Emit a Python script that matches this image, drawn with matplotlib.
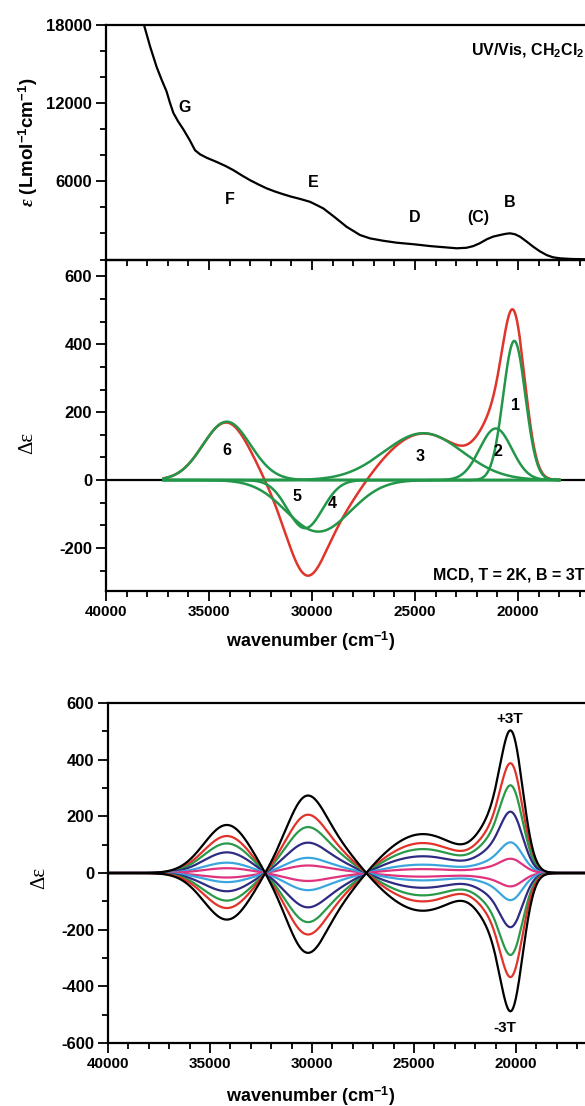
import numpy as np
import matplotlib
matplotlib.use('Agg')
import matplotlib.pyplot as plt
from matplotlib.ticker import MultipleLocator, FixedLocator

plt.rcParams['font.family'] = ['Liberation Sans', 'DejaVu Sans']
plt.rcParams['font.weight'] = 'bold'
plt.rcParams['axes.labelweight'] = 'bold'
plt.rcParams['mathtext.fontset'] = 'custom'
plt.rcParams['mathtext.rm'] = 'Liberation Sans:bold'
plt.rcParams['mathtext.bf'] = 'Liberation Sans:bold'
plt.rcParams['mathtext.it'] = 'Liberation Serif:italic'
plt.rcParams['axes.linewidth'] = 1.6
plt.rcParams['axes.unicode_minus'] = False

# UV/Vis absorption spectrum in CH2Cl2
uv_wavenumber = [38700, 38155, 37850, 37540, 37300, 37060, 36900, 36730, 36500,
                 36250, 35950, 35680, 35440, 35100, 34630, 34200, 33820, 33400,
                 33010, 32600, 32200, 31800, 31400, 31000, 30580, 30100, 29800,
                 29450, 28900, 28320, 27670, 27180, 26550, 25890, 25000, 24270,
                 23500, 22980, 22500, 22170, 21850, 21520, 21200, 20870, 20600,
                 20390, 20150, 19900, 19600, 19260, 18950, 18610, 18300, 17960,
                 17400, 16750]
uv_epsilon = [20000, 18000, 16300, 14770, 13800, 12900, 12050, 11250, 10600,
              10000, 9200, 8390, 8080, 7800, 7490, 7180, 6860, 6450,
              6090, 5760, 5460, 5220, 5010, 4820, 4650, 4430, 4200,
              3920, 3250, 2510, 1880, 1620, 1440, 1290, 1160, 1030,
              930, 860, 900, 1030, 1250, 1550, 1760, 1880, 1970,
              2010, 1940, 1750, 1400, 980, 640, 340, 170, 90,
              40, 20]
uv_band_names = ['G', 'F', 'E', 'D', '(C)', 'B']

# Gaussian components of the MCD fit (T = 2 K, B = 3 T)
band_names = ['1', '2', '3', '4', '5', '6']
band_center = [20180, 21080, 24600, 29690, 30340, 34140]
band_height = [410, 152, 138, -152, -142, 172]
band_sigma = [540, 780, 1900, 1556, 850, 1150]
fit_lo, fit_hi = 18000, 37200

# field series, intensity relative to the +3 T spectrum
field_scale = [1.0, 0.77, 0.615, 0.43, 0.215, 0.10,
               -0.094, -0.19, -0.38, -0.575, -0.73, -0.97]
field_colors = ['black', '#e2332a', '#2a9a4a', '#2f2a82', '#3ba6de', '#e0337d',
                '#e0337d', '#3ba6de', '#2f2a82', '#2a9a4a', '#e2332a', 'black']


def band(nu, c, h, s):
    return h * np.exp(-(nu - c) ** 2 / (2.0 * s ** 2))


def style_axis(ax):
    ax.set_xlim(40000, 16000)
    ax.xaxis.set_major_locator(MultipleLocator(5000))
    ax.xaxis.set_minor_locator(MultipleLocator(1000))
    ax.tick_params(which='major', direction='out', width=1.3, length=7)
    ax.tick_params(which='minor', direction='out', width=1.3, length=4)
    ax.tick_params(axis='y', labelsize=12, pad=3)
    ax.tick_params(axis='x', labelsize=11, pad=3)
    ax.spines['right'].set_visible(False)


fig = plt.figure(figsize=(5.85, 11.06), dpi=100)
fig.patch.set_facecolor('white')

ax_mcd = fig.add_axes([106 / 585, 1 - 591 / 1106, 494.4 / 585, 331.5 / 1106])
ax_uv = fig.add_axes([106 / 585, 1 - 259.5 / 1106, 494.4 / 585, 234.5 / 1106])
ax_fd = fig.add_axes([108 / 585, 1 - 1043 / 1106, 489.6 / 585, 340 / 1106])
ax_uv.patch.set_alpha(0)

# --- UV/Vis ---
ax_uv.plot(uv_wavenumber, uv_epsilon, color='black', lw=1.6)
style_axis(ax_uv)
ax_uv.set_ylim(0, 18000)
ax_uv.yaxis.set_major_locator(FixedLocator([6000, 12000, 18000]))
ax_uv.yaxis.set_minor_locator(MultipleLocator(2000))
ax_uv.tick_params(axis='x', labelbottom=False)
ax_uv.set_ylabel(r'$\varepsilon$ (Lmol$^{-1}$cm$^{-1}$)', fontsize=13.5)
ax_uv.yaxis.label.set_verticalalignment('center')
ax_uv.yaxis.set_label_coords(-0.158, 0.5)
uv_label_pos = [(36165, 11640), (33980, 4590), (29950, 5890),
                (25000, 3210), (21940, 3210), (20390, 4360)]
for name, (x, y) in zip(uv_band_names, uv_label_pos):
    ax_uv.text(x, y, name, fontsize=11.5, ha='center', va='center')
ax_uv.text(16760, 16050, 'UV/Vis, CH$_2$Cl$_2$', fontsize=11.5, ha='right', va='center')

# --- MCD with Gaussian deconvolution ---
nu = np.linspace(16000, 40000, 2401)
components = [band(nu, c, h, s) for c, h, s in zip(band_center, band_height, band_sigma)]
total = np.sum(components, axis=0)
inside = (nu >= fit_lo) & (nu <= fit_hi)

ax_mcd.plot(nu[nu >= fit_hi - 5], total[nu >= fit_hi - 5] * 0, color='black', lw=1.6)
ax_mcd.plot(nu[nu <= fit_lo + 5], total[nu <= fit_lo + 5] * 0, color='black', lw=1.6)
ax_mcd.plot(nu[inside], total[inside], color='#e0352b', lw=1.8)
for comp in components:
    ax_mcd.plot(nu[inside], comp[inside], color='#22974a', lw=1.8)
style_axis(ax_mcd)
ax_mcd.set_ylim(-327, 650)
ax_mcd.yaxis.set_major_locator(MultipleLocator(200))
ax_mcd.yaxis.set_minor_locator(MultipleLocator(200 / 3))
ax_mcd.set_ylabel('Δε', fontsize=15, family='Liberation Serif', fontweight='normal')
ax_mcd.yaxis.label.set_verticalalignment('center')
ax_mcd.yaxis.set_label_coords(-0.159, 0.446)
ax_mcd.set_xlabel('wavenumber (cm$^{-1}$)', fontsize=13)
ax_mcd.xaxis.set_label_coords(0.413, -0.115)
band_label_pos = [(20100, 221), (20955, 83), (24760, 69),
                  (29040, -69), (30740, -49), (34140, 88)]
for name, (x, y) in zip(band_names, band_label_pos):
    ax_mcd.text(x, y, name, fontsize=11.5, ha='center', va='center')
ax_mcd.text(16760, -280, 'MCD, T = 2K, B = 3T', fontsize=11.5, ha='right', va='center')

# --- field dependence ---
order = [1, 2, 3, 4, 5, 6, 7, 8, 9, 10, 0, 11]
for i in order:
    ax_fd.plot(nu, field_scale[i] * total, color=field_colors[i], lw=1.6)
style_axis(ax_fd)
ax_fd.set_ylim(-600, 600)
ax_fd.yaxis.set_major_locator(MultipleLocator(200))
ax_fd.yaxis.set_minor_locator(MultipleLocator(100))
ax_fd.set_ylabel('Δε', fontsize=15, family='Liberation Serif', fontweight='normal')
ax_fd.yaxis.label.set_verticalalignment('center')
ax_fd.yaxis.set_label_coords(-0.14, 0.485)
ax_fd.set_xlabel('wavenumber (cm$^{-1}$)', fontsize=13)
ax_fd.xaxis.set_label_coords(0.413, -0.122)
ax_fd.text(20290, 543, '+3T', fontsize=11, ha='center', va='center')
ax_fd.text(20540, -548, '-3T', fontsize=11, ha='center', va='center')

fig.savefig('out.png', dpi=100)
